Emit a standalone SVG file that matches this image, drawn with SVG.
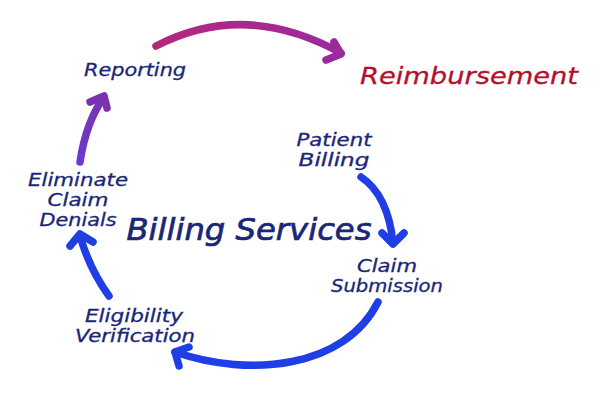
<svg xmlns="http://www.w3.org/2000/svg" width="600" height="410" viewBox="0 0 600 410">
<defs>
<linearGradient id="gTop" x1="155" y1="0" x2="345" y2="0" gradientUnits="userSpaceOnUse">
<stop offset="0" stop-color="#b4287a"/><stop offset="1" stop-color="#9a2a9e"/>
</linearGradient>
<linearGradient id="gLeft" x1="0" y1="163" x2="0" y2="95" gradientUnits="userSpaceOnUse">
<stop offset="0" stop-color="#6a3ad0"/><stop offset="1" stop-color="#7a32b0"/>
</linearGradient>
<style>
.lbl{font-family:"DejaVu Sans",sans-serif;font-style:italic;fill:#1a2678;stroke:#1a2678;stroke-width:0.3;text-anchor:middle;font-size:17px}
.big{font-size:30px;stroke-width:0.7}
.red{fill:#b3102c;stroke:#b3102c;font-size:23px}
.arr{fill:none;stroke-width:7.5;stroke-linecap:round;stroke-linejoin:round}
.blue{stroke:#1f3ee6}
</style>
</defs>
<rect width="600" height="410" fill="#ffffff"/>
<g id="connectors">
<path class="arr" stroke="url(#gTop)" d="M156,46 Q245,0 341,53"/>
<path class="arr" stroke="#9a2a9e" d="M334,42 L341,54 L326,60"/>
<path class="arr" stroke="url(#gLeft)" d="M80,162 Q86,122 104,97"/>
<path class="arr" stroke="#7a32b0" d="M90,102 L104,96 L107,108"/>
<path class="arr blue" d="M109,296 Q90,270 80,236"/>
<path class="arr blue" d="M70,246 L80,234 L93,242"/>
<path class="arr blue" d="M361,177 Q388,195 393,243"/>
<path class="arr blue" d="M382,233 L393,244 L404,233"/>
<path class="arr blue" d="M378,302 C345,368 250,378 175,352"/>
<path class="arr blue" d="M189,347 L175,352 L179,366"/>
</g>
<g id="reporting"><text class="lbl" x="135" y="76" textLength="102" lengthAdjust="spacingAndGlyphs">Reporting</text></g>
<g id="reimbursement"><text class="lbl red" x="469" y="84" textLength="218" lengthAdjust="spacingAndGlyphs">Reimbursement</text></g>
<g id="patient-billing">
<text class="lbl" x="334" y="146" textLength="75" lengthAdjust="spacingAndGlyphs">Patient</text>
<text class="lbl" x="334" y="166" textLength="71" lengthAdjust="spacingAndGlyphs">Billing</text>
</g>
<g id="billing-services"><text class="lbl big" x="249" y="240" textLength="245" lengthAdjust="spacingAndGlyphs">Billing Services</text></g>
<g id="claim-submission">
<text class="lbl" x="387" y="272" textLength="60" lengthAdjust="spacingAndGlyphs">Claim</text>
<text class="lbl" x="387" y="292" textLength="112" lengthAdjust="spacingAndGlyphs">Submission</text>
</g>
<g id="eliminate-claim-denials">
<text class="lbl" x="78" y="186" textLength="100" lengthAdjust="spacingAndGlyphs">Eliminate</text>
<text class="lbl" x="78" y="206" textLength="61" lengthAdjust="spacingAndGlyphs">Claim</text>
<text class="lbl" x="78" y="226" textLength="77" lengthAdjust="spacingAndGlyphs">Denials</text>
</g>
<g id="eligibility-verification">
<text class="lbl" x="134" y="322" textLength="98" lengthAdjust="spacingAndGlyphs">Eligibility</text>
<text class="lbl" x="135" y="342" textLength="120" lengthAdjust="spacingAndGlyphs">Verification</text>
</g>
</svg>
